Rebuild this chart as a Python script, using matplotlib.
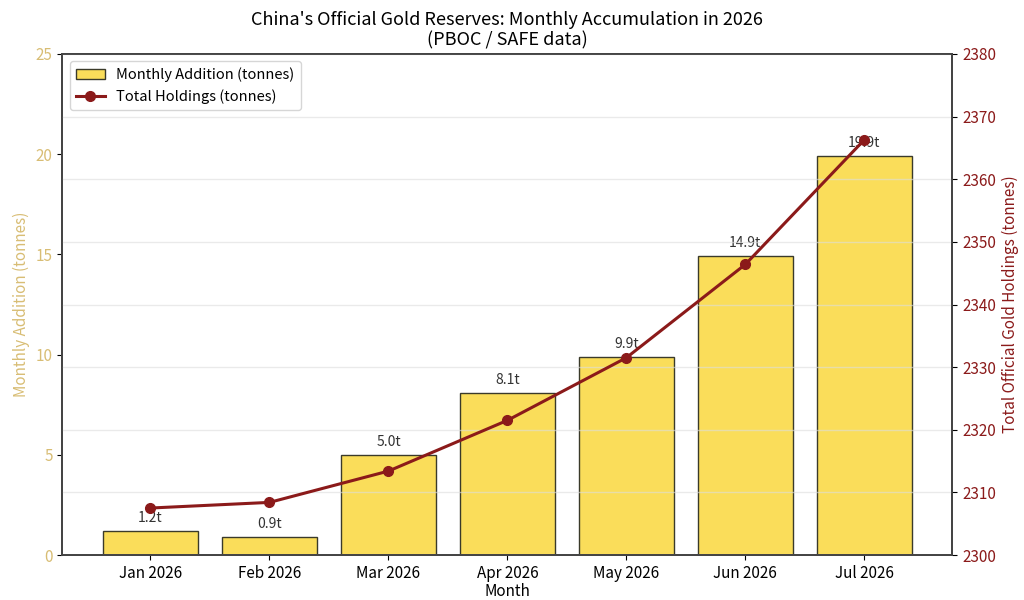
import matplotlib
matplotlib.use('Agg')
import matplotlib.pyplot as plt

plt.rcParams['font.family'] = ['Noto Sans CJK SC', 'DejaVu Sans']

# Data
months = ['Jan 2026', 'Feb 2026', 'Mar 2026', 'Apr 2026', 'May 2026', 'Jun 2026', 'Jul 2026']
monthly_add = [1.2, 0.9, 5.0, 8.1, 9.9, 14.9, 19.9]
total_holdings = [2307.5, 2308.4, 2313.4, 2321.5, 2331.5, 2346.4, 2366.3]

bar_color = '#FADD5A'
line_color = '#8B1A1A'
left_color = '#D8BD74'

fig, ax1 = plt.subplots(figsize=(10.24, 6), dpi=100)

x = range(len(months))
bars = ax1.bar(x, monthly_add, width=0.8, color=bar_color, edgecolor='#3a3a2a',
               linewidth=1.0, label='Monthly Addition (tonnes)')
for xi, v in zip(x, monthly_add):
    ax1.text(xi, v + 0.3, f'{v:.1f}t', ha='center', va='bottom', fontsize=10, color='#333333')

ax1.set_ylim(0, 25)
ax1.set_xticks(list(x))
ax1.set_xticklabels(months, fontsize=11)
ax1.set_xlabel('Month', fontsize=11, labelpad=1)
ax1.set_ylabel('Monthly Addition (tonnes)', color=left_color, fontsize=11)
ax1.tick_params(axis='y', labelcolor=left_color, labelsize=11)

ax2 = ax1.twinx()
ax2.plot(x, total_holdings, color=line_color, linewidth=2.2, marker='o', markersize=7,
         label='Total Holdings (tonnes)')
ax2.set_ylim(2300, 2380)
ax2.set_ylabel('Total Official Gold Holdings (tonnes)', color=line_color, fontsize=11)
ax2.tick_params(axis='y', labelcolor=line_color, labelsize=11)
ax2.grid(axis='y', color='#dddddd', alpha=0.6, linewidth=1)

for ax in (ax1, ax2):
    for s in ax.spines.values():
        s.set_color('#444444')
        s.set_linewidth(1.3)

h1, l1 = ax1.get_legend_handles_labels()
h2, l2 = ax2.get_legend_handles_labels()
ax1.legend(h1 + h2, l1 + l2, loc='upper left', fontsize=10.5)

ax1.set_title("China's Official Gold Reserves: Monthly Accumulation in 2026\n(PBOC / SAFE data)",
              fontsize=13)

plt.subplots_adjust(left=0.061, right=0.93, top=0.91, bottom=0.075)
plt.savefig('out.png', dpi=100)
